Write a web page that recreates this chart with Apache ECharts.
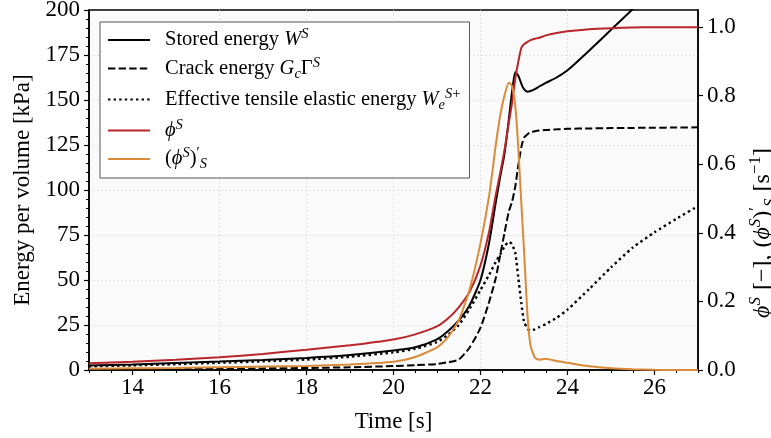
<!DOCTYPE html>
<html>
<head>
<meta charset="utf-8">
<script src="https://cdn.jsdelivr.net/npm/echarts@6/dist/echarts.min.js"></script>
<style>html,body{margin:0;padding:0;background:#fff}#c{width:771px;height:438px}</style>
</head>
<body>
<div id="c"></div>
<script>
// ---- data ----
const time = [13, 14, 15, 16, 17, 18, 19, 20, 20.5, 21, 21.25, 21.5, 21.75, 22, 22.2, 22.35, 22.45, 22.55, 22.65, 22.72, 22.8, 22.87, 22.94, 23.0, 23.08, 23.15, 23.25, 23.35, 23.5, 23.75, 24, 24.5, 25, 25.5, 26, 26.5, 27];
const storedEnergy = [2.5, 3.1, 3.9, 4.7, 5.6, 6.7, 8.3, 10.8, 12.6, 17.0, 21.5, 27.5, 36, 50, 71, 93, 107, 120, 139, 153.5, 165.5, 163.5, 159, 156, 154.6, 155, 156, 157.5, 159.5, 162.5, 166.5, 177.5, 189, 200.5, 212, 223, 234];
const crackEnergy = [0.4, 0.5, 0.6, 0.7, 0.9, 1.1, 1.5, 2.2, 2.7, 3.3, 4.3, 5.8, 12.5, 23.5, 38, 51, 63.5, 76, 88, 93, 102, 114, 124, 129, 131, 132, 132.6, 133, 133.4, 133.7, 134, 134.2, 134.4, 134.5, 134.6, 134.7, 134.8];
const tensileEnergy = [2.0, 2.6, 3.2, 4.0, 4.8, 5.8, 7.4, 9.8, 11.8, 15.5, 19.5, 25, 34, 44.5, 53, 60, 64, 68.5, 71.2, 70, 65, 51, 37, 27, 23, 22, 22.6, 23.8, 25.5, 29, 33.5, 45, 57, 68, 76.5, 84, 91];
const phi = [0.020, 0.024, 0.030, 0.037, 0.047, 0.059, 0.072, 0.089, 0.104, 0.127, 0.150, 0.183, 0.228, 0.305, 0.405, 0.51, 0.573, 0.64, 0.72, 0.775, 0.85, 0.90, 0.94, 0.95, 0.957, 0.962, 0.966, 0.969, 0.976, 0.983, 0.988, 0.994, 0.997, 0.999, 1.0, 1.0, 1.0];
const phiRate = [0.004, 0.005, 0.006, 0.008, 0.010, 0.012, 0.016, 0.024, 0.038, 0.066, 0.095, 0.145, 0.235, 0.37, 0.51, 0.655, 0.74, 0.80, 0.838, 0.83, 0.77, 0.645, 0.483, 0.35, 0.16, 0.072, 0.036, 0.030, 0.033, 0.026, 0.021, 0.011, 0.005, 0.002, 0.0005, 0.0002, 0.0];
const xTicks = [14, 16, 18, 20, 22, 24, 26];
const rightTicks = [0, 0.2, 0.4, 0.6, 0.8, 1.0];

// ---- styling ----
const F = '"Liberation Serif", "DejaVu Serif", serif';
const pair = arr => time.map((t, i) => [t, arr[i]]);

function richSet(size, lh, supSize) {
  return {
    g: {width: 10, fontSize: size, fontFamily: F, lineHeight: lh},
    w: {width: 7, fontSize: size, fontFamily: F, lineHeight: lh},
    n: {fontFamily: F, fontSize: size, color: '#000', lineHeight: lh},
    i: {fontFamily: F, fontSize: size, color: '#000', lineHeight: lh, fontStyle: 'italic'},
    sup: {fontFamily: F, fontSize: supSize, color: '#000', fontStyle: 'italic', verticalAlign: 'top', lineHeight: supSize + 3},
    supn: {fontFamily: F, fontSize: supSize, color: '#000', verticalAlign: 'top', lineHeight: supSize + 3},
    sub: {fontFamily: F, fontSize: supSize, color: '#000', fontStyle: 'italic', verticalAlign: 'bottom', lineHeight: supSize + 3}
  };
}

const legendText = {
  'Stored energy': '{g| }{n|Stored energy }{i|W}{sup|S}',
  'Crack energy': '{g| }{n|Crack energy }{i|G}{sub|c}{n|Γ}{sup|S}',
  'Effective tensile elastic energy': '{g| }{n|Effective tensile elastic energy }{i|W}{sub|e}{sup|S}{supn|+}',
  'phi': '{g| }{i|ϕ}{sup|S}',
  'phiRate': '{g| }{n|(}{i|ϕ}{sup|S}{n|)}{supn|′}{sub|S}'
};

const RED = '#b8252a';
const ORANGE = '#d98b3a';
const GRIDLINE = {show: true, showMinLine: false, showMaxLine: false, lineStyle: {color: '#dcdcdc', width: 0.8, type: [2, 2]}};

const chart = echarts.init(document.getElementById('c'), null, {renderer: 'canvas'});
chart.setOption({
  animation: false,
  backgroundColor: '#fff',
  grid: {left: 89, right: 73, top: 10, height: 360, outerBoundsMode: 'none', containLabel: false,
         show: true, backgroundColor: '#fafafa', borderColor: '#000', borderWidth: 1.5},
  legend: {
    orient: 'vertical', left: 100, top: 22,
    itemWidth: 42, itemHeight: 1, itemGap: 5,
    padding: [5, 9, 6, 7],
    backgroundColor: '#fff', borderColor: '#555', borderWidth: 1,
    selectedMode: false,
    itemStyle: {opacity: 0},
    formatter: name => legendText[name],
    textStyle: {fontFamily: F, fontSize: 20.5, color: '#000', rich: richSet(20.5, 26, 14.5)}
  },
  xAxis: [{
    type: 'value', min: 13, max: 27,
    name: 'Time [s]', nameLocation: 'middle', nameGap: 40,
    nameTextStyle: {fontFamily: F, fontSize: 23, color: '#000'},
    axisLine: {show: true, lineStyle: {color: '#000', width: 1.5}},
    axisTick: {show: true, length: 5, lineStyle: {color: '#000', width: 1.2}, customValues: xTicks},
    axisLabel: {customValues: xTicks, fontFamily: F, fontSize: 23, color: '#000', margin: 6, formatter: v => String(v)},
    splitLine: GRIDLINE
  }, {
    type: 'value', min: 13, max: 27, interval: 0.5, position: 'bottom',
    axisLine: {show: false},
    axisTick: {show: true, length: 3, lineStyle: {color: '#000', width: 1}},
    axisLabel: {show: false},
    splitLine: {show: false}
  }],
  yAxis: [{
    type: 'value', min: 0, max: 200, interval: 25, position: 'left',
    name: 'Energy per volume [kPa]', nameLocation: 'middle', nameGap: 54, nameRotate: 90,
    nameTextStyle: {fontFamily: F, fontSize: 23, color: '#000'},
    axisLine: {show: true, lineStyle: {color: '#000', width: 1.5}},
    axisTick: {show: true, length: 5, lineStyle: {color: '#000', width: 1.2}},
    minorTick: {show: true, splitNumber: 5, length: 3, lineStyle: {color: '#000', width: 1}},
    axisLabel: {fontFamily: F, fontSize: 23, color: '#000', margin: 9},
    splitLine: GRIDLINE
  }, {
    type: 'value', min: 0, max: 1.05, position: 'right',
    name: '{i|ϕ}{sup|S}{w| }{n|[−],}{w| }{n|(}{i|ϕ}{sup|S}{n|)}{supn|′}{sub|S}{w| }{n|[s}{supn|−1}{n|]}',
    nameLocation: 'middle', nameGap: 42, nameRotate: 90,
    nameTextStyle: {fontFamily: F, fontSize: 24, color: '#000', rich: richSet(24, 32, 17), padding: [0, 86, 0, 0]},
    axisLine: {show: true, lineStyle: {color: '#000', width: 1.5}},
    axisTick: {show: true, length: 5, lineStyle: {color: '#000', width: 1.2}, customValues: rightTicks},
    axisLabel: {customValues: rightTicks, fontFamily: F, fontSize: 23, color: '#000', margin: 9, formatter: v => v.toFixed(1)},
    splitLine: {show: false}
  }],
  series: [
    {name: 'Stored energy', type: 'line', xAxisIndex: 0, yAxisIndex: 0, data: pair(storedEnergy), symbol: 'none', smooth: 0.2,
     lineStyle: {color: '#000', width: 2}, itemStyle: {color: '#000'}},
    {name: 'Crack energy', type: 'line', xAxisIndex: 0, yAxisIndex: 0, data: pair(crackEnergy), symbol: 'none', smooth: 0.2,
     lineStyle: {color: '#000', width: 2, type: [7.4, 3.2]}, itemStyle: {color: '#000'}},
    {name: 'Effective tensile elastic energy', type: 'line', xAxisIndex: 0, yAxisIndex: 0, data: pair(tensileEnergy), symbol: 'none', smooth: 0.2,
     lineStyle: {color: '#000', width: 2.4, type: [2.4, 3.2]}, itemStyle: {color: '#000'}},
    {name: 'phi', type: 'line', xAxisIndex: 0, yAxisIndex: 1, data: pair(phi), symbol: 'none', smooth: 0.2,
     lineStyle: {color: RED, width: 2}, itemStyle: {color: RED}},
    {name: 'phiRate', type: 'line', xAxisIndex: 0, yAxisIndex: 1, data: pair(phiRate), symbol: 'none', smooth: 0.2,
     lineStyle: {color: ORANGE, width: 2}, itemStyle: {color: ORANGE}}
  ]
});
</script>
</body>
</html>
